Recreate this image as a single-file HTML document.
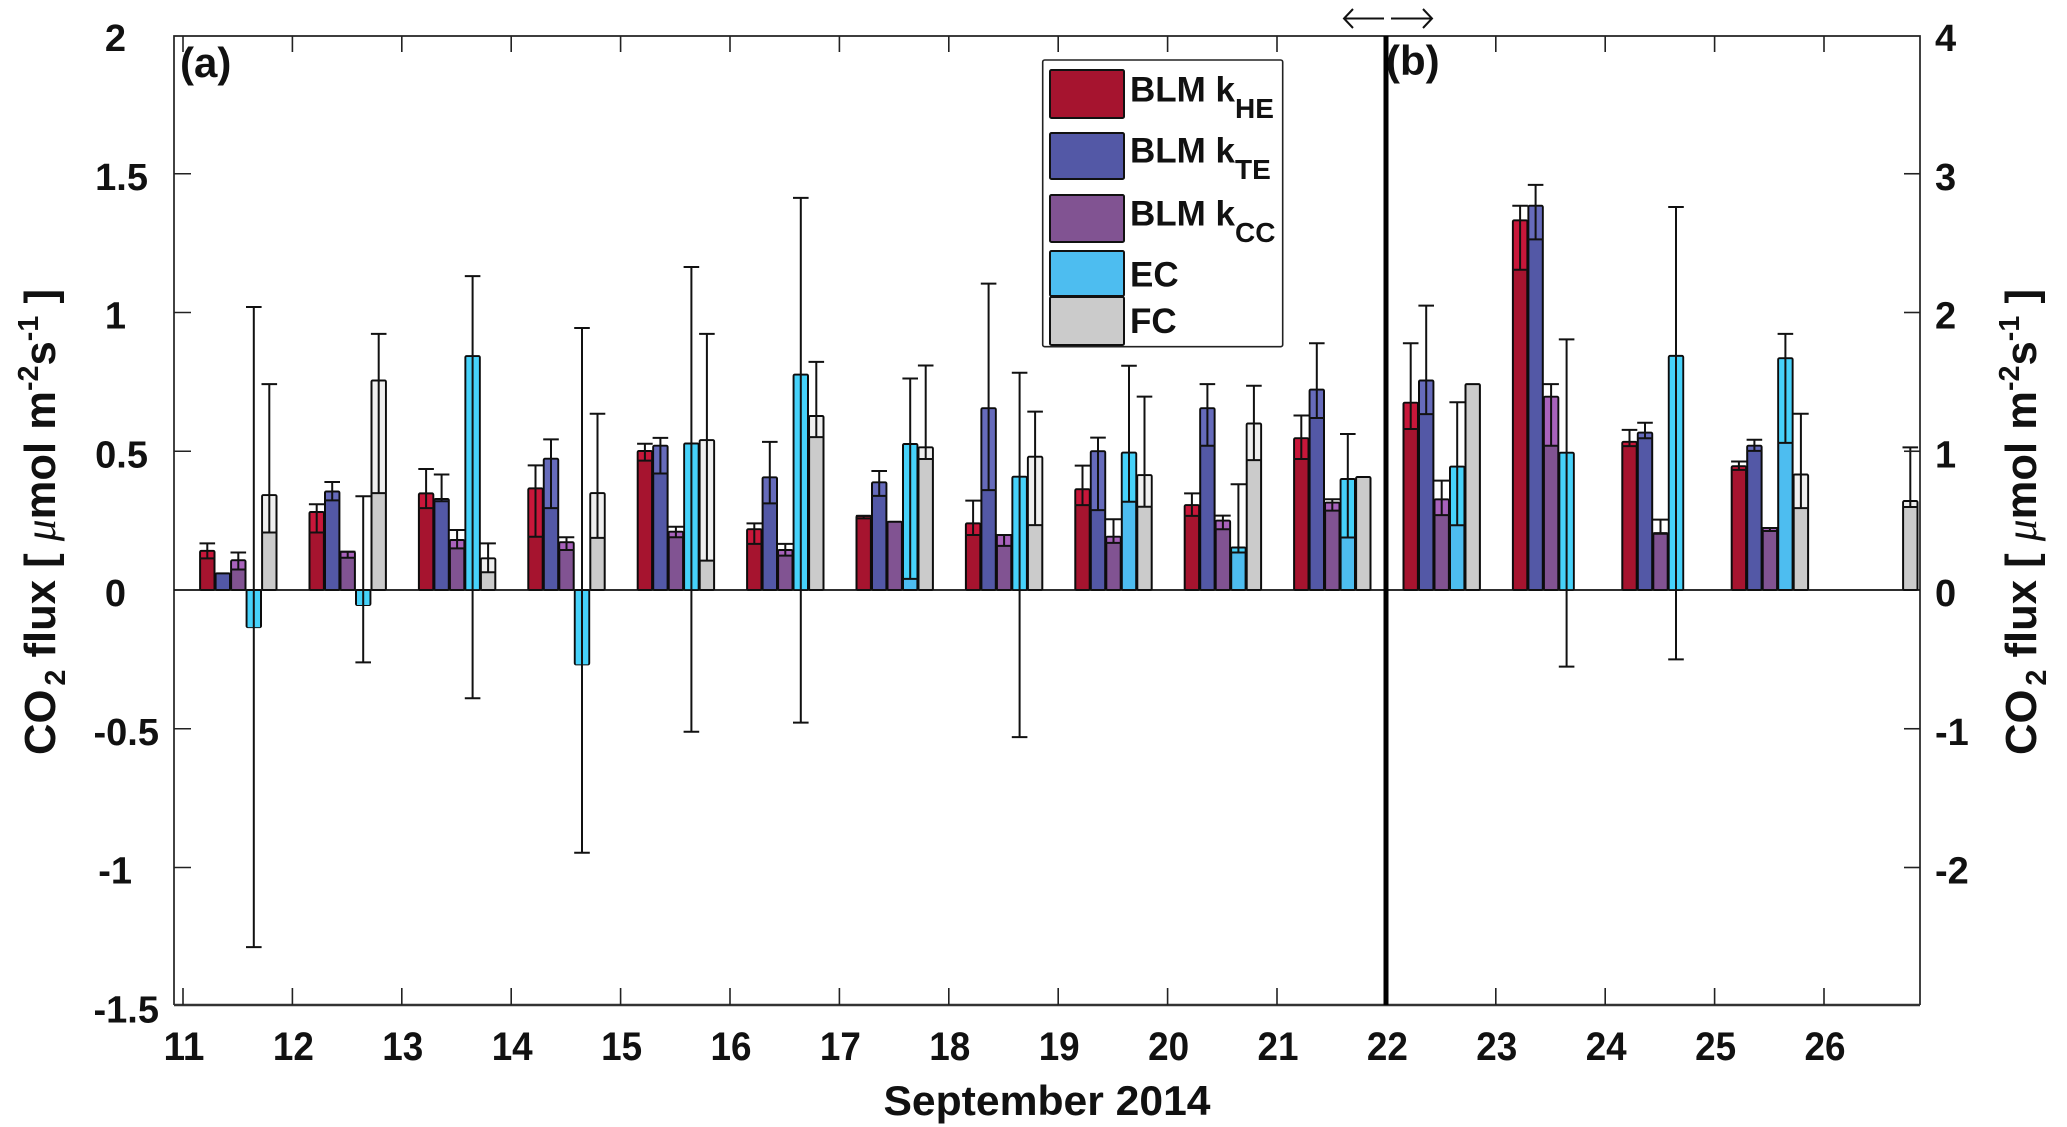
<!DOCTYPE html>
<html lang="en">
<head>
<meta charset="utf-8">
<title>CO2 flux September 2014</title>
<style>
html,body{margin:0;padding:0;background:#fff;width:2067px;height:1127px;overflow:hidden}
svg{display:block;font-family:"Liberation Sans",Arial,sans-serif}
text{font-weight:bold;fill:#111}
</style>
</head>
<body>
<svg id="chart" xmlns="http://www.w3.org/2000/svg" width="2067" height="1127" viewBox="0 0 2067 1127">
  <rect x="0" y="0" width="2067" height="1127" fill="#fff"/>
  <g id="bars"></g>
  <g id="axes"></g>

  <line x1="1386" y1="36" x2="1386" y2="1005" stroke="#000" stroke-width="5"/>
  <text x="180" y="77" font-size="42">(a)</text>
  <text x="1386" y="75" font-size="42">(b)</text>

  <g fill="none" stroke="#111" stroke-width="2">
    <path d="M1344 18.5H1384M1353 9L1344 18.5L1353 28"/>
    <path d="M1391 18.5H1432M1423 9L1432 18.5L1423 28"/>
  </g>

  <g>
    <rect x="1042.7" y="60" width="240" height="286.7" rx="2" fill="#fff" stroke="#222" stroke-width="1.6"/>
    <rect x="1050" y="70" width="74" height="48" rx="1.5" fill="#a6142f" stroke="#111" stroke-width="2"/>
    <rect x="1050" y="133" width="74" height="46" rx="1.5" fill="#5358a6" stroke="#111" stroke-width="2"/>
    <rect x="1050" y="195" width="74" height="47" rx="1.5" fill="#815392" stroke="#111" stroke-width="2"/>
    <rect x="1050" y="251" width="74" height="45" rx="1.5" fill="#4dbdf0" stroke="#111" stroke-width="2"/>
    <rect x="1050" y="297" width="74" height="48" rx="1.5" fill="#cbcbcb" stroke="#111" stroke-width="2"/>
    <text x="1130" y="101.7" font-size="35">BLM k<tspan font-size="28" dy="16.3">HE</tspan></text>
    <text x="1130" y="162.7" font-size="35">BLM k<tspan font-size="28" dy="16.3">TE</tspan></text>
    <text x="1130" y="225.7" font-size="35">BLM k<tspan font-size="28" dy="16.3">CC</tspan></text>
    <text x="1130" y="286.7" font-size="35">EC</text>
    <text x="1130" y="333" font-size="35">FC</text>
  </g>

  <text x="1047" y="1115" font-size="42" text-anchor="middle" textLength="327" lengthAdjust="spacingAndGlyphs">September 2014</text>

  <text transform="translate(55,755) rotate(-90)" font-size="44" textLength="466" lengthAdjust="spacingAndGlyphs">CO<tspan font-size="29" dy="10" dx="4">2</tspan><tspan dy="-10"> flux [ </tspan><tspan font-family="'Liberation Serif',serif" font-style="italic" font-weight="normal">μ</tspan>mol m<tspan font-size="29" dy="-17">-2</tspan><tspan dy="17">s</tspan><tspan font-size="29" dy="-17">-1</tspan><tspan dy="17"> ]</tspan></text>
  <text transform="translate(2036,755) rotate(-90)" font-size="44" textLength="466" lengthAdjust="spacingAndGlyphs">CO<tspan font-size="29" dy="10" dx="4">2</tspan><tspan dy="-10"> flux [ </tspan><tspan font-family="'Liberation Serif',serif" font-style="italic" font-weight="normal">μ</tspan>mol m<tspan font-size="29" dy="-17">-2</tspan><tspan dy="17">s</tspan><tspan font-size="29" dy="-17">-1</tspan><tspan dy="17"> ]</tspan></text>
</svg>

<script>
// ---- Chart data (days 11-21 in left-axis units, days 22-26 in right-axis units) ----
const days = [11,12,13,14,15,16,17,18,19,20,21,22,23,24,25,26];
const xTickLabels = ['11','12','13','14','15','16','17','18','19','20','21','22','23','24','25','26'];
const leftTickValues = [2,1.5,1,0.5,0,-0.5,-1,-1.5];
const leftTickLabels = ['2','1.5','1','0.5','0','-0.5','-1','-1.5'];
const rightTickValues = [4,3,2,1,0,-1,-2];
const rightTickLabels = ['4','3','2','1','0','-1','-2'];

const kheValues = [0.141,0.281,0.348,0.366,0.501,0.219,0.267,0.240,0.363,0.306,0.547,1.35,2.664,1.068,0.892,null];
const kheLows   = [0.114,0.207,0.295,0.192,0.466,0.166,0.258,0.198,0.306,0.267,0.472,1.16,2.308,1.037,0.866,null];
const kheHighs  = [0.168,0.309,0.436,0.449,0.527,0.240,0.267,0.322,0.448,0.348,0.629,1.778,2.769,1.154,0.926,null];

const kteValues = [0.060,0.355,0.328,0.473,0.520,0.406,0.388,0.655,0.500,0.655,0.722,1.51,2.769,1.134,1.04,null];
const kteLows   = [0.060,0.323,0.320,0.295,0.420,0.312,0.339,0.360,0.288,0.520,0.620,1.268,2.527,1.094,1.003,null];
const kteHighs  = [0.060,0.389,0.416,0.543,0.548,0.534,0.429,1.104,0.549,0.742,0.889,2.05,2.92,1.205,1.083,null];

const kccValues = [0.107,0.138,0.180,0.172,0.210,0.144,0.246,0.198,0.192,0.250,0.315,0.653,1.393,0.41,0.447,null];
const kccLows   = [0.074,0.116,0.150,0.144,0.190,0.124,0.246,0.159,0.170,0.219,0.286,0.54,1.04,0.405,0.425,null];
const kccHighs  = [0.135,0.138,0.216,0.190,0.228,0.166,0.246,0.198,0.255,0.268,0.327,0.788,1.484,0.507,0.447,null];

const ecValues = [-0.134,-0.054,0.843,-0.268,0.528,0.776,0.526,0.408,0.495,0.153,0.400,0.889,0.989,1.687,1.67,null];
const ecLows   = [-1.287,-0.261,-0.390,-0.947,-0.511,-0.478,0.040,-0.530,0.318,0.135,0.189,0.467,-0.552,-0.50,1.06,null];
const ecHighs  = [1.020,0.338,1.131,0.944,1.164,1.413,0.762,0.783,0.808,0.381,0.562,1.353,1.806,2.76,1.846,null];

const fcValues = [0.342,0.755,0.114,0.349,0.540,0.627,0.514,0.480,0.414,0.600,0.407,1.484,null,null,0.832,0.641];
const fcLows   = [0.207,0.349,0.064,0.188,0.106,0.551,0.472,0.234,0.300,0.468,0.407,1.484,null,null,0.59,0.598];
const fcHighs  = [0.742,0.923,0.168,0.635,0.923,0.822,0.809,0.643,0.697,0.736,0.407,1.484,null,null,1.27,1.028];

// ---- Series presentation ----
const seriesList = [
  {key:'khe', values:kheValues, lows:kheLows, highs:kheHighs, base:'#a6142f', light:'#c8173a'},
  {key:'kte', values:kteValues, lows:kteLows, highs:kteHighs, base:'#5358a6', light:'#666bbb'},
  {key:'kcc', values:kccValues, lows:kccLows, highs:kccHighs, base:'#815392', light:'#a862bb'},
  {key:'ec',  values:ecValues,  lows:ecLows,  highs:ecHighs,  base:'#4dbdf0', light:'#46d2fa'},
  {key:'fc',  values:fcValues,  lows:fcLows,  highs:fcHighs,  base:'#cbcbcb', light:'#efefef'}
];

// ---- Axis functions ----
const SVGNS = 'http://www.w3.org/2000/svg';
const PLOT = {left:174, right:1920, top:36, bottom:1005, zero:590, leftUnit:277.5, rightUnit:138.75, dayStart:183, dayStep:109.4};
const xDay = d => PLOT.dayStart + (d - 11) * PLOT.dayStep;
const yLeft = v => PLOT.zero - v * PLOT.leftUnit;
const yRight = v => PLOT.zero - v * PLOT.rightUnit;
const yFor = (d, v) => d < 22 ? yLeft(v) : yRight(v);
const BAR_STEP = 15.5;
const BAR_WIDTH = 14.4;
const CAP_WIDTH = 15.6;
const barCenter = (d, i) => xDay(d) + 24.3 + i * BAR_STEP;

function mk(tag, attrs, parent) {
  const el = document.createElementNS(SVGNS, tag);
  for (const k in attrs) el.setAttribute(k, attrs[k]);
  parent.appendChild(el);
  return el;
}

const barsLayer = document.getElementById('bars');
const axesLayer = document.getElementById('axes');

// ---- Bars and error bars ----
seriesList.forEach((s, i) => {
  const group = mk('g', {}, barsLayer);
  
  
  days.forEach((d, di) => {
    const v = s.values[di];
    if (v === null) return;
    const lo = s.lows[di], hi = s.highs[di];
    const cx = barCenter(d, i);
    const y0 = yFor(d, 0), yv = yFor(d, v);
    const top = Math.min(y0, yv), h = Math.abs(y0 - yv);

    const bar = mk('rect', {x:cx - BAR_WIDTH/2, y:top, width:BAR_WIDTH, height:h, rx:1.2, fill:s.base, stroke:'#0c0c0c', 'stroke-width':2}, group);
    
    

    if (lo !== v || hi !== v) {
      // lighter band between the lower whisker and the bar end
      const yl = yFor(d, lo);
      const bandBottom = v >= 0 ? Math.min(Math.max(yl, yv), y0) : Math.max(yv, y0);
      const bandTop = v >= 0 ? yv : Math.min(yv, y0);
      if (bandBottom > bandTop) {
        const band = mk('rect', {x:cx - BAR_WIDTH/2 + 1, y:bandTop + 1, width:BAR_WIDTH - 2, height:Math.max(0, bandBottom - bandTop - 1), fill:s.light}, group);
        
        
      }
      const yh = yFor(d, hi);
      const path = mk('path', {d:'M' + cx + ' ' + yh + 'V' + yl + 'M' + (cx - CAP_WIDTH/2) + ' ' + yh + 'H' + (cx + CAP_WIDTH/2) + 'M' + (cx - CAP_WIDTH/2) + ' ' + yl + 'H' + (cx + CAP_WIDTH/2), fill:'none', stroke:'#111', 'stroke-width':2}, group);
      
      
    }
  });
});

// ---- Axes ----
const frame = mk('path', {d:'M' + PLOT.left + ' ' + PLOT.bottom + 'V' + PLOT.top + 'H' + PLOT.right + 'V' + PLOT.bottom, fill:'none', stroke:'#222', 'stroke-width':1.7}, axesLayer);



const xAxisLine = mk('line', {x1:PLOT.left, x2:PLOT.right, y1:PLOT.bottom, y2:PLOT.bottom, stroke:'#333', 'stroke-width':2.6}, axesLayer);



const zeroLine = mk('line', {x1:PLOT.left, x2:PLOT.right, y1:PLOT.zero, y2:PLOT.zero, stroke:'#111', 'stroke-width':1.8}, axesLayer);



days.forEach((d, i) => {
  const x = xDay(d);
  if (d !== 22) {
    const tb = mk('line', {x1:x, x2:x, y1:PLOT.bottom, y2:PLOT.bottom - 17, stroke:'#222', 'stroke-width':1.6}, axesLayer);
    
    
    const tt = mk('line', {x1:x, x2:x, y1:PLOT.top, y2:PLOT.top + 16, stroke:'#222', 'stroke-width':1.6}, axesLayer);
    
    
  }
  const t = mk('text', {x:x + 1, y:1060, 'font-size':40, 'text-anchor':'middle', textLength:41, lengthAdjust:'spacingAndGlyphs'}, axesLayer);
  t.textContent = xTickLabels[i];
  
  
});

leftTickValues.forEach((v, i) => {
  const y = yLeft(v);
  if (v !== 0 && v !== 2 && v !== -1.5) {
    const tick = mk('line', {x1:PLOT.left, x2:PLOT.left + 17, y1:y, y2:y, stroke:'#222', 'stroke-width':1.6}, axesLayer);
    
    
  }
  const lab = leftTickLabels[i];
  const neg = lab.charAt(0) === '-';
  const dec = lab.indexOf('.') >= 0;
  const rightEdge = dec ? (neg ? 159 : 148) : (neg ? 132 : 126);
  const t = mk('text', {x:rightEdge, y:y + 16, 'font-size':38, 'text-anchor':'end'}, axesLayer);
  t.textContent = lab;
  
  
});

rightTickValues.forEach((v, i) => {
  const y = yRight(v);
  if (v !== 0 && v !== 4) {
    const tick = mk('line', {x1:PLOT.right, x2:PLOT.right - 16, y1:y, y2:y, stroke:'#222', 'stroke-width':1.6}, axesLayer);
    
    
  }
  const t = mk('text', {x:1935, y:y + 16, 'font-size':38}, axesLayer);
  t.textContent = rightTickLabels[i];
  
  
});
</script>
</body>
</html>
